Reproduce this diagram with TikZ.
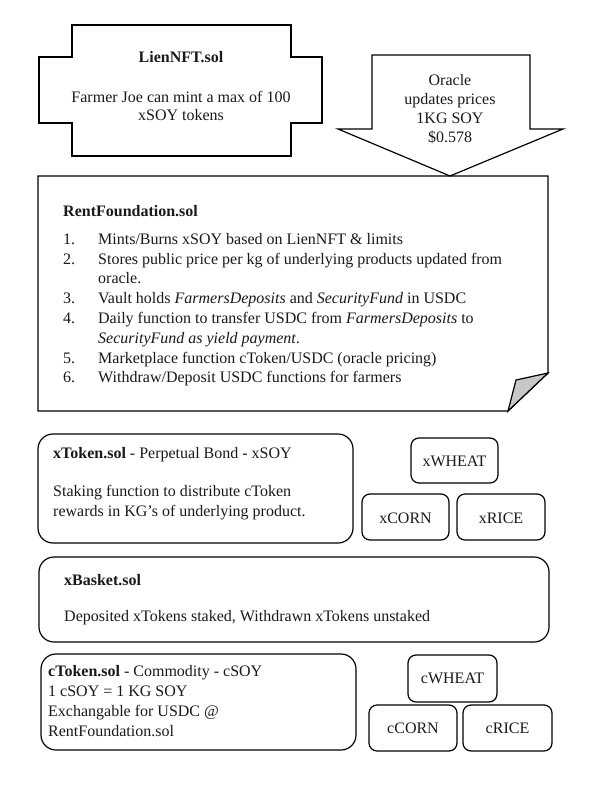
\documentclass[tikz,border=0pt]{standalone}
\usepackage{fontspec}
\setmainfont{Liberation Serif}
\begin{document}
\begin{tikzpicture}[x=1pt,y=-1pt,
  shp/.style={draw=black,line width=1.2pt,line join=miter},
  bigbox/.style={draw=black,line width=1.2pt,rounded corners=15pt},
  smallbox/.style={draw=black,line width=1.2pt,rounded corners=8pt},
  txt/.style={inner sep=0pt,font=\fontsize{16}{19.8}\selectfont,text=black!90},
  lbl/.style={txt,anchor=center}]
\useasboundingbox (0,0) rectangle (614,810);
% LienNFT shape
\draw[shp] (72,25) -- (291,25) -- (291,57) -- (322,57) -- (322,123) -- (291,123) -- (291,156) -- (72,156) -- (72,123) -- (39,123) -- (39,57) -- (72,57) -- cycle;
\node[txt,anchor=base] (lientitle) at (181,63) {\textbf{LienNFT.sol}};
\node[txt,align=center,anchor=north,font=\fontsize{16}{18.5}\selectfont] (lienbody) at (181,91) {Farmer Joe can mint a max of 100\\xSOY tokens};
% Oracle arrow
\draw[shp] (372,55) -- (530,55) -- (530,129) -- (563,129) -- (450,176) -- (338,129) -- (372,129) -- cycle;
\node[txt,align=center,anchor=north,font=\fontsize{16}{19}\selectfont] (oracle) at (450,74) {Oracle\\updates prices\\1KG SOY\\\$0.578};
% RentFoundation
\draw[shp] (38,176) -- (548,176) -- (548,373) -- (508,411) -- (38,411) -- cycle;
\draw[shp,fill=black!22] (548,373) -- (516,380) -- (508,411) -- cycle;
\node[txt,anchor=base west] (rftitle) at (63,216) {\textbf{RentFoundation.sol}};
\node[txt,align=left,anchor=north west] (rflist) at (63,233) {%
\makebox[35pt][l]{1.}Mints/Burns xSOY based on LienNFT \& limits\\
\makebox[35pt][l]{2.}Stores public price per kg of underlying products updated from\\
\hspace*{35pt}oracle.\\
\makebox[35pt][l]{3.}Vault holds \textit{FarmersDeposits} and \textit{SecurityFund} in USDC\\
\makebox[35pt][l]{4.}Daily function to transfer USDC from \textit{FarmersDeposits} to\\
\hspace*{35pt}\textit{SecurityFund as yield payment}.\\
\makebox[35pt][l]{5.}Marketplace function cToken/USDC (oracle pricing)\\
\makebox[35pt][l]{6.}Withdraw/Deposit USDC functions for farmers};
% xToken
\draw[bigbox] (38,434) rectangle (353,543);
\node[txt,anchor=base west] (xtitle) at (53,458) {\textbf{xToken.sol} - Perpetual Bond - xSOY};
\node[txt,align=left,anchor=north west] (xbody) at (53,485) {Staking function to distribute cToken\\rewards in KG’s of underlying product.};
\draw[smallbox] (411,438) rectangle (498,483);
\node[lbl] (xwheat) at (454.5,461) {xWHEAT};
\draw[smallbox] (362,494) rectangle (449,540);
\node[lbl] (xcorn) at (405.5,518) {xCORN};
\draw[smallbox] (457,494) rectangle (545,540);
\node[lbl] (xrice) at (501,518) {xRICE};
% xBasket
\draw[bigbox] (39,557) rectangle (549,642);
\node[txt,anchor=base west] (xbtitle) at (64,585) {\textbf{xBasket.sol}};
\node[txt,anchor=base west] (xbbody) at (64,621) {Deposited xTokens staked, Withdrawn xTokens unstaked};
% cToken
\draw[bigbox] (41,654) rectangle (356,750);
\node[txt,align=left,anchor=north west,font=\fontsize{16}{20}\selectfont] (ctext) at (48,665) {\textbf{cToken.sol} - Commodity - cSOY\\1 cSOY = 1 KG SOY\\Exchangable for USDC @\\RentFoundation.sol};
\draw[smallbox] (408,655) rectangle (497,702);
\node[lbl] (cwheat) at (452.5,678) {cWHEAT};
\draw[smallbox] (369,705) rectangle (457,751);
\node[lbl] (ccorn) at (413,728) {cCORN};
\draw[smallbox] (463,705) rectangle (552,751);
\node[lbl] (crice) at (507.5,728) {cRICE};
\end{tikzpicture}
\end{document}
